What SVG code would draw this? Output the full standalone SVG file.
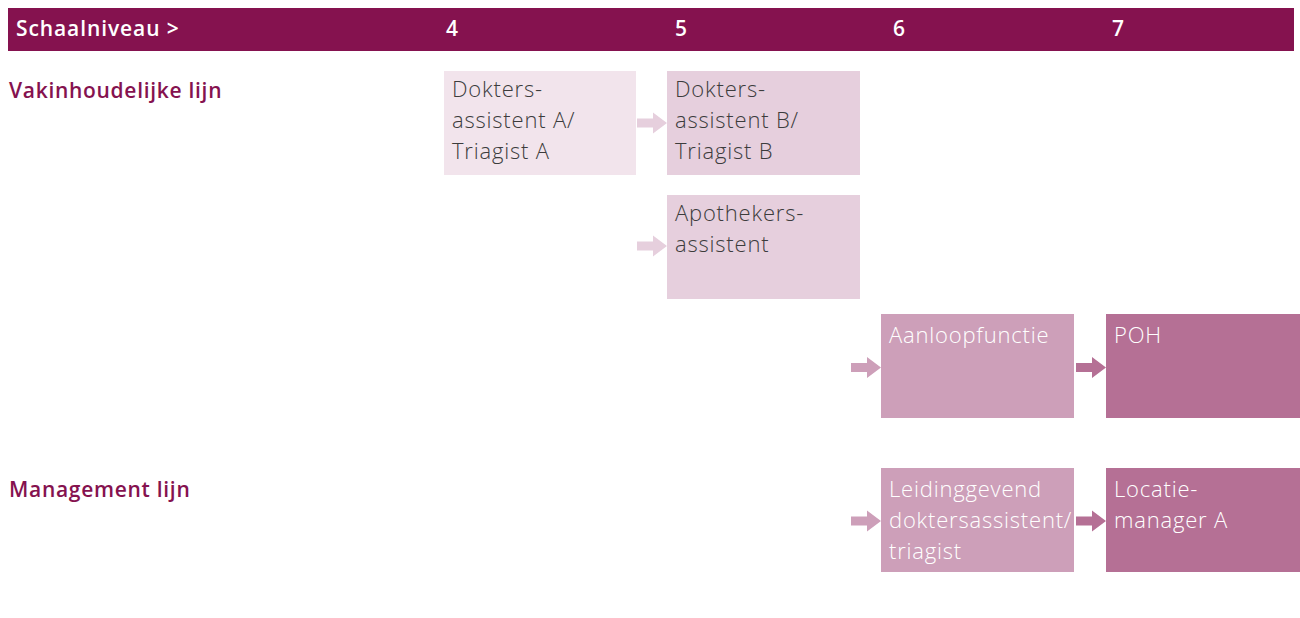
<svg xmlns="http://www.w3.org/2000/svg" width="1300" height="618" viewBox="0 0 1300 618">
<style>
.hdr{font-family:"Open Sans",Lato,"Liberation Sans",sans-serif;font-weight:600;font-size:21px;letter-spacing:0.9px;fill:#fff}
.row{font-family:"Open Sans",Lato,"Liberation Sans",sans-serif;font-weight:600;font-size:21px;letter-spacing:0.7px;fill:#85124f}
.t{font-family:"Open Sans",Lato,"Liberation Sans",sans-serif;font-weight:300;font-size:22px;letter-spacing:0.8px;fill:#3c3c3c}
.w{fill:#fff}
.c1{fill:#f2e4ec}.c2{fill:#e6cfdd}.c3{fill:#cd9fb9}.c4{fill:#b57095}
</style>
<defs>
<path id="arr" d="M0,-4.5 H16 V-10.5 L30,0 L16,10.5 V4.5 H0 Z"/>
</defs>
<rect width="1300" height="618" fill="#fff"/>
<g id="header">
<rect x="8" y="8" width="1286" height="43" fill="#85124f"/>
<text class="hdr" x="16" y="36">Schaalniveau &gt;</text>
<text class="hdr" x="446" y="36">4</text>
<text class="hdr" x="675" y="36">5</text>
<text class="hdr" x="893" y="36">6</text>
<text class="hdr" x="1112" y="36">7</text>
</g>
<g id="labels">
<text class="row" x="9" y="98">Vakinhoudelijke lijn</text>
<text class="row" x="9" y="497">Management lijn</text>
</g>
<g id="connectors">
<use href="#arr" x="637" y="123" class="c2"/>
<use href="#arr" x="637" y="246" class="c2"/>
<use href="#arr" x="851" y="367.5" class="c3"/>
<use href="#arr" x="1076" y="367.5" class="c4"/>
<use href="#arr" x="851" y="521" class="c3"/>
<use href="#arr" x="1076" y="521" class="c4"/>
</g>
<g id="dokters-a">
<rect x="444" y="71" width="192" height="104" class="c1"/>
<text class="t" x="452" y="97">Dokters-</text>
<text class="t" x="452" y="128">assistent A/</text>
<text class="t" x="452" y="159">Triagist A</text>
</g>
<g id="dokters-b">
<rect x="667" y="71" width="193" height="104" class="c2"/>
<text class="t" x="675" y="97">Dokters-</text>
<text class="t" x="675" y="128">assistent B/</text>
<text class="t" x="675" y="159">Triagist B</text>
</g>
<g id="apothekers">
<rect x="667" y="195" width="193" height="104" class="c2"/>
<text class="t" x="675" y="221">Apothekers-</text>
<text class="t" x="675" y="252">assistent</text>
</g>
<g id="aanloop">
<rect x="881" y="314" width="193" height="104" class="c3"/>
<text class="t w" x="889" y="343">Aanloopfunctie</text>
</g>
<g id="poh">
<rect x="1106" y="314" width="194" height="104" class="c4"/>
<text class="t w" x="1114" y="343">POH</text>
</g>
<g id="leidinggevend">
<rect x="881" y="468" width="193" height="104" class="c3"/>
<text class="t w" x="889" y="497">Leidinggevend</text>
<text class="t w" x="889" y="528">doktersassistent/</text>
<text class="t w" x="889" y="559">triagist</text>
</g>
<g id="locatie">
<rect x="1106" y="468" width="194" height="104" class="c4"/>
<text class="t w" x="1114" y="497">Locatie-</text>
<text class="t w" x="1114" y="528">manager A</text>
</g>
</svg>
